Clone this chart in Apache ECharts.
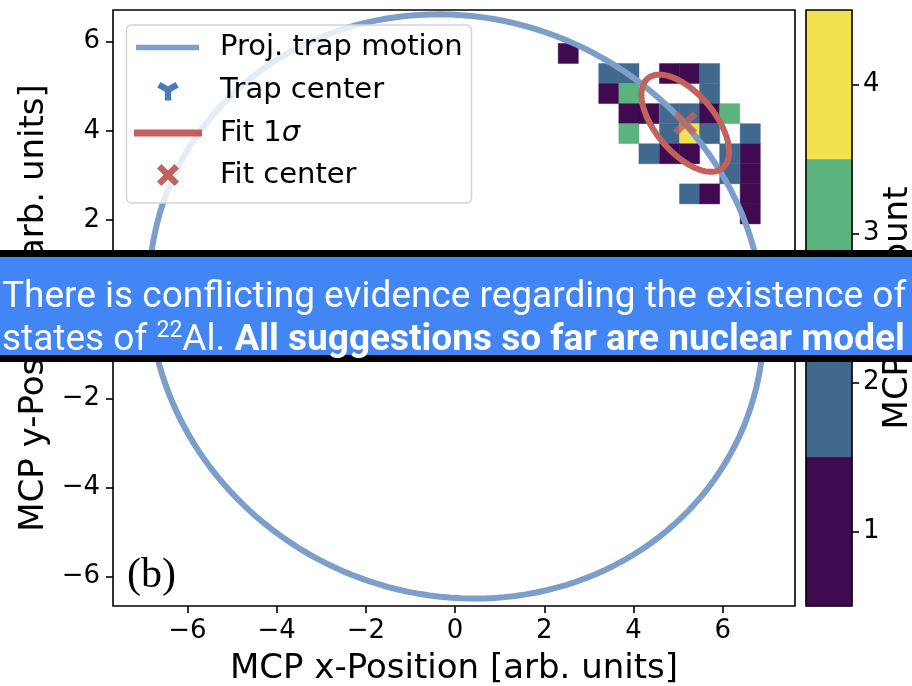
<!DOCTYPE html>
<html>
<head>
<meta charset="utf-8">
<script src="https://cdn.jsdelivr.net/npm/echarts@6/dist/echarts.min.js"></script>
<style>
  html, body { margin: 0; padding: 0; background: #fff; }
  #chart { width: 912px; height: 686px; }
</style>
</head>
<body>
<div id="chart"></div>
<script>
// 2D histogram of MCP hits: lower-left corner of each occupied bin and its count
const binWidthX = 0.453;
const binWidthY = 0.45;
const binX = [2.31, 3.22, 3.67, 4.58, 5.03, 5.48, 3.22, 3.67, 5.48, 3.67, 4.12, 4.58, 5.03, 5.48, 5.93,
              3.67, 4.58, 5.03, 5.48, 6.39, 4.12, 4.58, 5.03, 5.93, 6.39, 5.93, 6.39, 5.03, 5.48, 6.39, 6.39];
const binY = [5.51, 5.06, 5.06, 5.06, 5.06, 5.06, 4.61, 4.61, 4.61, 4.16, 4.16, 4.16, 4.16, 4.16, 4.16,
              3.71, 3.71, 3.71, 3.71, 3.71, 3.26, 3.26, 3.26, 3.26, 3.26, 2.81, 2.81, 2.36, 2.36, 2.36, 1.91];
const binCount = [1, 2, 2, 1, 1, 2, 1, 3, 2, 1, 1, 2, 2, 1, 3,
                  3, 2, 4, 2, 2, 2, 1, 1, 2, 1, 2, 1, 2, 1, 1, 1];

// Discrete colour levels of the count scale
const countLevels = [1, 2, 3, 4];
const levelColors = ['#400a51', '#41688d', '#5bb47e', '#f3e24f'];

// Axis ticks
const xTicks = [-6, -4, -2, 0, 2, 4, 6];
const yTicks = [-6, -4, -2, 0, 2, 4, 6];

// Projected trap motion: centre, semi-axes, rotation (degrees); the trap centre sits at its middle
const trapCenter = [0.03, 0.06];
const trapRadii = [6.98, 6.46];
const trapAngle = -24.6;

// 1-sigma fit ellipse: centre, semi-axes, rotation (degrees)
const fitCenter = [5.16, 4.17];
const fitAxes = [1.31, 0.66];
const fitAngle = -50;

const C_TRAP = '#7b9fca';
const C_TRAP_CENTER = '#4a7bb5';
const C_FIT = '#c2625c';
const FONT = 'DejaVu Sans';

const minus = v => String(v).replace('-', '\u2212');

// marker outlines (unit ~ 1px at scale 1)
const TRI_DOWN_PTS = [[-7.2, -7.6], [0, -3.46], [7.2, -7.6], [10.2, -2.4], [3, 1.76], [3, 10],
                      [-3, 10], [-3, 1.76], [-10.2, -2.4]];
const X_PTS = [[-10, -6], [-6, -10], [0, -4], [6, -10], [10, -6], [4, 0], [10, 6], [6, 10],
               [0, 4], [-6, 10], [-10, 6], [-4, 0]];
const toPath = pts => 'path://' + pts.map((p, i) => (i ? 'L' : 'M') + p[0] + ',' + p[1]).join(' ') + ' Z';

// closed ellipse outline in data space, mapped to pixels by the axes
function ellipsePoints(api, c, ax, angleDeg) {
  const th = angleDeg * Math.PI / 180;
  const pts = [];
  const n = 180;
  for (let k = 0; k < n; k++) {
    const t = 2 * Math.PI * k / n;
    const dx = ax[0] * Math.cos(t), dy = ax[1] * Math.sin(t);
    pts.push(api.coord([c[0] + dx * Math.cos(th) - dy * Math.sin(th),
                        c[1] + dx * Math.sin(th) + dy * Math.cos(th)]));
  }
  return pts;
}

const chart = echarts.init(document.getElementById('chart'), null, { renderer: 'canvas' });

const tickStyle = { length: 7, lineStyle: { color: '#000', width: 1.6 } };
const labelStyle = { color: '#000', fontSize: 26, fontFamily: FONT };
const nameStyle = { color: '#000', fontSize: 34, fontFamily: FONT };
const hiddenLine = { show: false, onZero: false };

const option = {
  animation: false,
  backgroundColor: '#fff',
  grid: [
    { left: 113, top: 10, width: 682, height: 596, show: true, borderColor: '#000', borderWidth: 1.6,
      backgroundColor: 'transparent', z: 10, outerBoundsMode: 'none' },
    { left: 806, top: 10, width: 46, height: 596, show: true, borderColor: '#000', borderWidth: 1.6,
      backgroundColor: 'transparent', z: 10, outerBoundsMode: 'none' }
  ],
  xAxis: [
    { gridIndex: 0, type: 'value', min: -7.67, max: 7.62, position: 'bottom',
      axisLine: hiddenLine, splitLine: { show: false },
      axisTick: Object.assign({ customValues: xTicks }, tickStyle),
      axisLabel: Object.assign({ customValues: xTicks, formatter: minus, margin: 12 }, labelStyle),
      name: 'MCP x-Position [arb. units]', nameLocation: 'middle', nameGap: 46,
      nameMoveOverlap: false, nameTextStyle: nameStyle },
    { gridIndex: 1, type: 'value', min: 0, max: 1, show: false, axisLine: hiddenLine }
  ],
  yAxis: [
    { gridIndex: 0, type: 'value', min: -6.66, max: 6.71, position: 'left',
      axisLine: hiddenLine, splitLine: { show: false },
      axisTick: Object.assign({ customValues: yTicks }, tickStyle),
      axisLabel: Object.assign({ customValues: yTicks, formatter: minus, margin: 13 }, labelStyle),
      name: 'MCP y-Position [arb. units]', nameLocation: 'middle', nameGap: 62, nameRotate: 90,
      nameMoveOverlap: false, nameTextStyle: nameStyle },
    { gridIndex: 1, type: 'value', min: 0.5, max: 4.5, position: 'right',
      axisLine: hiddenLine, splitLine: { show: false },
      axisTick: Object.assign({ customValues: countLevels }, tickStyle),
      axisLabel: Object.assign({ customValues: countLevels, margin: 11 }, labelStyle),
      name: 'MCP ion count', nameLocation: 'middle', nameGap: 29, nameRotate: 90,
      nameMoveOverlap: false, nameTextStyle: nameStyle }
  ],
  series: [
    {
      name: 'Counts', type: 'custom', xAxisIndex: 0, yAxisIndex: 0, z: 2, clip: true,
      data: binX.map((x, i) => [x, binY[i], binCount[i]]),
      renderItem: (params, api) => {
        const x0 = api.value(0), y0 = api.value(1), n = api.value(2);
        const p0 = api.coord([x0, y0]);
        const p1 = api.coord([x0 + binWidthX, y0 + binWidthY]);
        const col = levelColors[countLevels.indexOf(n)];
        return { type: 'rect',
          shape: { x: p0[0], y: p1[1], width: p1[0] - p0[0], height: p0[1] - p1[1] },
          style: { fill: col, stroke: col, lineWidth: 0.4 } };
      }
    },
    {
      name: 'Proj. trap motion', type: 'custom', xAxisIndex: 0, yAxisIndex: 0, z: 3, clip: true,
      data: [[trapCenter[0], trapCenter[1]]],
      renderItem: (params, api) => ({
        type: 'polygon',
        shape: { points: ellipsePoints(api, trapCenter, trapRadii, trapAngle) },
        style: { fill: 'none', stroke: C_TRAP, lineWidth: 6 }
      })
    },
    {
      name: 'Trap center', type: 'scatter', xAxisIndex: 0, yAxisIndex: 0, z: 4,
      symbol: toPath(TRI_DOWN_PTS), symbolSize: 22, itemStyle: { color: C_TRAP_CENTER },
      data: [trapCenter]
    },
    {
      name: 'Fit 1σ', type: 'custom', xAxisIndex: 0, yAxisIndex: 0, z: 5,
      data: [[fitCenter[0], fitCenter[1]]],
      renderItem: (params, api) => ({
        type: 'polygon',
        shape: { points: ellipsePoints(api, fitCenter, fitAxes, fitAngle) },
        style: { fill: 'none', stroke: C_FIT, lineWidth: 6 }
      })
    },
    {
      name: 'Fit center', type: 'scatter', xAxisIndex: 0, yAxisIndex: 0, z: 6,
      symbol: toPath(X_PTS), symbolSize: 24, itemStyle: { color: C_FIT },
      data: [fitCenter]
    },
    {
      name: 'Colour scale', type: 'custom', xAxisIndex: 1, yAxisIndex: 1, z: 2,
      data: countLevels.map(v => [0, v]),
      renderItem: (params, api) => {
        const v = api.value(1);
        const p0 = api.coord([0, v - 0.5]);
        const p1 = api.coord([1, v + 0.5]);
        const col = levelColors[countLevels.indexOf(v)];
        return { type: 'rect',
          shape: { x: p0[0], y: p1[1], width: p1[0] - p0[0], height: p0[1] - p1[1] },
          style: { fill: col, stroke: col, lineWidth: 0.4 } };
      }
    }
  ],
  graphic: [
    // legend
    { type: 'rect', z: 50, shape: { x: 126.5, y: 25, width: 345, height: 178, r: 5 },
      style: { fill: 'rgba(255,255,255,0.8)', stroke: '#d4d4d4', lineWidth: 1.5 } },
    { type: 'line', z: 51, shape: { x1: 136, y1: 47.5, x2: 199, y2: 47.5 },
      style: { stroke: C_TRAP, lineWidth: 5.5 } },
    { type: 'polygon', z: 51, shape: { points: TRI_DOWN_PTS }, x: 168, y: 90, scaleX: 1.05, scaleY: 1.05,
      style: { fill: C_TRAP_CENTER } },
    { type: 'line', z: 51, shape: { x1: 134, y1: 133, x2: 202, y2: 133 },
      style: { stroke: C_FIT, lineWidth: 7 } },
    { type: 'polygon', z: 51, shape: { points: X_PTS }, x: 168, y: 175, scaleX: 1.1, scaleY: 1.1,
      style: { fill: C_FIT } },
    { type: 'text', z: 51, x: 220, y: 47.5, style: { text: 'Proj. trap motion', fill: '#000',
      font: '29px "DejaVu Sans"', verticalAlign: 'middle' } },
    { type: 'text', z: 51, x: 220, y: 90, style: { text: 'Trap center', fill: '#000',
      font: '29px "DejaVu Sans"', verticalAlign: 'middle' } },
    { type: 'text', z: 51, x: 220, y: 133, style: { text: '{n|Fit 1}{i|σ}', fill: '#000',
      font: '29px "DejaVu Sans"', verticalAlign: 'middle',
      rich: { n: { fontFamily: FONT, fontSize: 29, fill: '#000' },
              i: { fontFamily: FONT, fontSize: 29, fontStyle: 'italic', fill: '#000' } } } },
    { type: 'text', z: 51, x: 220, y: 175, style: { text: 'Fit center', fill: '#000',
      font: '29px "DejaVu Sans"', verticalAlign: 'middle' } },
    // panel tag
    { type: 'text', z: 50, x: 127, y: 576, style: { text: '(b)', fill: '#000',
      font: '42px "Liberation Serif"', verticalAlign: 'middle' } },
    // banner
    { type: 'rect', z: 100, shape: { x: -10, y: 253.5, width: 932, height: 105 },
      style: { fill: '#4285f4', stroke: '#000', lineWidth: 7 } },
    { type: 'text', z: 101, x: 2, y: 276.5, style: {
      text: '{n|There is conflicting evidence regarding the existence of}\n{n|states of }{s|22}{n|Al. }{b|All suggestions so far are nuclear model}',
      verticalAlign: 'top', fill: '#fff',
      rich: {
        n: { fontFamily: 'Roboto', fontSize: 37, lineHeight: 43, fill: '#fff' },
        b: { fontFamily: 'Roboto', fontSize: 37, lineHeight: 43, fontWeight: 'bold', fill: '#fff' },
        s: { fontFamily: 'Roboto', fontSize: 23, lineHeight: 30, verticalAlign: 'top', fill: '#fff' }
      } } }
  ]
};

chart.setOption(option);
</script>
</body>
</html>
